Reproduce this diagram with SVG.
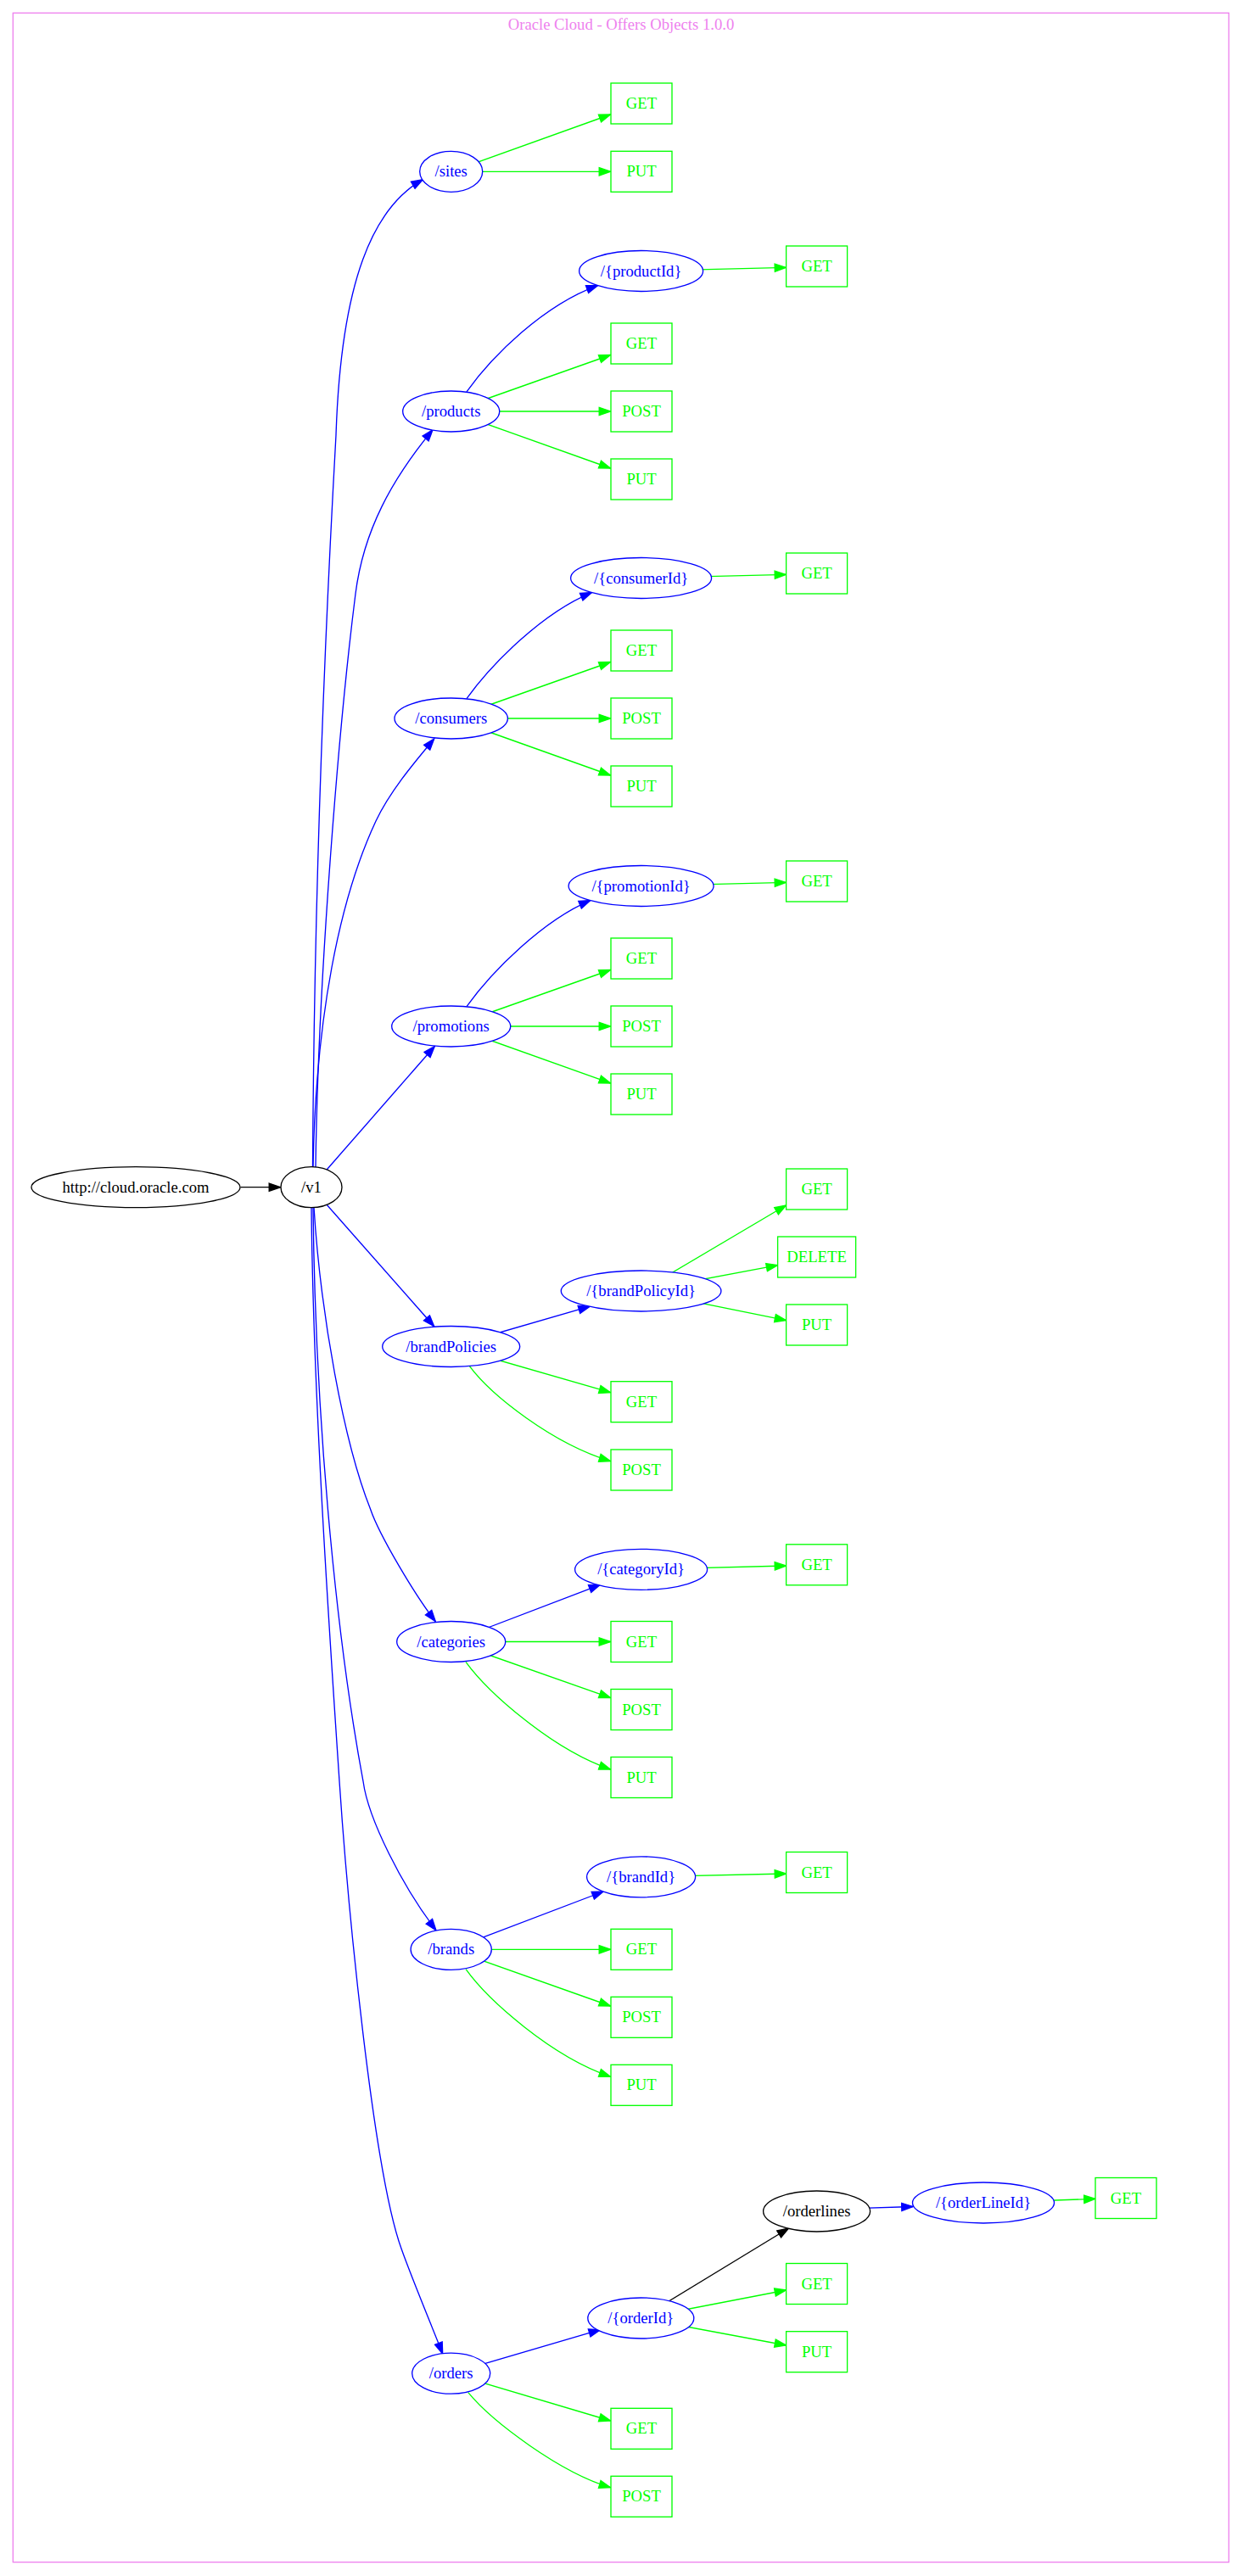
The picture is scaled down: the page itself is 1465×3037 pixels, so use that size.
<svg xmlns="http://www.w3.org/2000/svg" width="1465" height="3037" viewBox="0 0 1465 3037">
<style>
text{font-family:"Liberation Serif","Times New Roman",serif;font-size:18.67px;text-anchor:middle}
.n ellipse{fill:#fff;stroke-width:1.33}
.bl ellipse{stroke:#0000ff}.bl text{fill:#0000ff}
.bk ellipse{stroke:#000}.bk text{fill:#000}
.g rect{fill:#fff;stroke:#00ff00;stroke-width:1.33}.g text{fill:#00ff00}
.c path{fill:none;stroke-width:1.33}
.cb{stroke:#0000ff;marker-end:url(#ab)}
.cg{stroke:#00ff00;marker-end:url(#ag)}
.ck{stroke:#000;marker-end:url(#ak)}
</style>
<defs>
<marker id="ab" markerUnits="userSpaceOnUse" markerWidth="16" markerHeight="12" viewBox="-1 -1 16 12" refX="13.3" refY="5" orient="auto"><path d="M0,0.35 L13.3,5 L0,9.65 z" fill="#0000ff" stroke="#0000ff" stroke-width="1.33"/></marker>
<marker id="ag" markerUnits="userSpaceOnUse" markerWidth="16" markerHeight="12" viewBox="-1 -1 16 12" refX="13.3" refY="5" orient="auto"><path d="M0,0.35 L13.3,5 L0,9.65 z" fill="#00ff00" stroke="#00ff00" stroke-width="1.33"/></marker>
<marker id="ak" markerUnits="userSpaceOnUse" markerWidth="16" markerHeight="12" viewBox="-1 -1 16 12" refX="13.3" refY="5" orient="auto"><path d="M0,0.35 L13.3,5 L0,9.65 z" fill="#000" stroke="#000" stroke-width="1.33"/></marker>
</defs>
<rect x="0" y="0" width="1465" height="3037" fill="#fff"/>
<g id="frame">
<rect x="15.3" y="15.3" width="1433" height="3005.4" fill="none" stroke="#ee82ee" stroke-width="1.33"/>
<text x="732" y="34.5" fill="#ee82ee">Oracle Cloud - Offers Objects 1.0.0</text>
</g>
<g id="connectors" class="c">
<path class="ck" d="M283.5,1399.7 L330.5,1399.7"/>
<path class="cb" d="M368.5,1375.5 C370,1100 380,800 396,513 C402,330 440,245 498.3,211.7"/>
<path class="cb" d="M372,1376 C375,1150 400,850 419,700 C428.5,625 462,565 510,506.7"/>
<path class="cb" d="M369,1376 C372,1200 400,1060 443,968 C460,932 490,897 511.7,871"/>
<path class="cb" d="M367,1399.7 L512.3,1233.5"/>
<path class="cb" d="M367,1399.7 L511.7,1563.8"/>
<path class="cb" d="M370,1423.5 C378,1550 405,1700 436.7,1779.5 C447,1810 490,1882 513.3,1911.6"/>
<path class="cb" d="M369,1423.5 C372,1700 400,1950 428,2100 C434,2145 475,2225 514,2275.8"/>
<path class="cb" d="M367,1423.7 C369,1650 390,1950 400,2100 C410,2250 440,2560 473,2651 C485,2685 510,2745 521.7,2775"/>
<path class="cg" d="M531.7,202.3 L719.5,135"/>
<path class="cg" d="M531.7,202.3 L719.5,202.3"/>
<path class="cb" d="M550,461.8 C580,420 640,360 704.5,336.6"/>
<path class="cg" d="M755.6,319.5 L926.5,315.4"/>
<path class="cg" d="M531.7,485 L719.5,418.5"/>
<path class="cg" d="M531.7,485 L719.5,485"/>
<path class="cg" d="M531.7,485 L719.5,552"/>
<path class="cb" d="M550,823.6 C580,782 640,722 697.5,698.6"/>
<path class="cg" d="M755.6,681.5 L926.5,677.4"/>
<path class="cg" d="M531.7,847 L719.5,780.5"/>
<path class="cg" d="M531.7,847 L719.5,847"/>
<path class="cg" d="M531.7,847 L719.5,914"/>
<path class="cb" d="M550,1186.6 C580,1145 640,1085 695.8,1061.6"/>
<path class="cg" d="M755.6,1044.5 L926.5,1040.4"/>
<path class="cg" d="M531.7,1210 L719.5,1143.5"/>
<path class="cg" d="M531.7,1210 L719.5,1210"/>
<path class="cg" d="M531.7,1210 L719.5,1277"/>
<path class="cb" d="M531.7,1587.5 L695.2,1540.2"/>
<path class="cg" d="M755.6,1522 L926.5,1421"/>
<path class="cg" d="M755.6,1522 L916.6,1491.7"/>
<path class="cg" d="M755.6,1522 L926.5,1556.7"/>
<path class="cg" d="M531.7,1587.5 L719.5,1641.7"/>
<path class="cg" d="M553.4,1610.7 C579,1645 651,1702 719.5,1722.7"/>
<path class="cb" d="M531.7,1935.5 L707.5,1868.3"/>
<path class="cg" d="M755.6,1850.3 L926.5,1846"/>
<path class="cg" d="M531.7,1935.5 L719.5,1935.5"/>
<path class="cg" d="M531.7,1935.5 L719.5,2001.7"/>
<path class="cg" d="M549,1959.3 C575,1995 650,2062 719.5,2086"/>
<path class="cb" d="M531.7,2298.3 L711.2,2230"/>
<path class="cg" d="M755.6,2212.8 L926.5,2209"/>
<path class="cg" d="M531.7,2298.3 L719.5,2298.3"/>
<path class="cg" d="M531.7,2298.3 L719.5,2365"/>
<path class="cg" d="M549.1,2321.7 C575,2357.8 650,2424.8 719.5,2448.3"/>
<path class="cb" d="M531.7,2798.2 L707.4,2746.7"/>
<path class="ck" d="M755.3,2733 L929.5,2627"/>
<path class="cb" d="M962.6,2605 L1076,2601.5"/>
<path class="cg" d="M1159,2597 L1291,2592.3"/>
<path class="cg" d="M755.3,2733 L926.5,2700"/>
<path class="cg" d="M755.3,2733 L926.5,2765"/>
<path class="cg" d="M531.7,2798.2 L719.5,2854"/>
<path class="cg" d="M551.8,2820.7 C580,2855 660,2915 719.5,2932.7"/>
</g>
<g id="n_root" class="n bk"><ellipse cx="160" cy="1399.7" rx="123" ry="24"/><text x="160" y="1405.7">http://cloud.oracle.com</text></g>
<g id="n_v1" class="n bk"><ellipse cx="367" cy="1399.7" rx="36" ry="24"/><text x="367" y="1405.7">/v1</text></g>
<g id="n_sites" class="n bl"><ellipse cx="531.7" cy="202.3" rx="37" ry="24"/><text x="531.7" y="208.3">/sites</text></g>
<g id="n_sites_get" class="g"><rect x="720" y="98" width="72" height="48"/><text x="756" y="128">GET</text></g>
<g id="n_sites_put" class="g"><rect x="720" y="178.3" width="72" height="48"/><text x="756" y="208.3">PUT</text></g>
<g id="n_products" class="n bl"><ellipse cx="531.7" cy="485" rx="57" ry="24"/><text x="531.7" y="491">/products</text></g>
<g id="n_productId" class="n bl"><ellipse cx="755.6" cy="319.5" rx="73" ry="24"/><text x="755.6" y="325.5">/{productId}</text></g>
<g id="n_productId_get" class="g"><rect x="926.6" y="290" width="72" height="48"/><text x="962.6" y="320">GET</text></g>
<g id="n_products_get" class="g"><rect x="720" y="381" width="72" height="48"/><text x="756" y="411">GET</text></g>
<g id="n_products_post" class="g"><rect x="720" y="461" width="72" height="48"/><text x="756" y="491">POST</text></g>
<g id="n_products_put" class="g"><rect x="720" y="541" width="72" height="48"/><text x="756" y="571">PUT</text></g>
<g id="n_consumers" class="n bl"><ellipse cx="531.7" cy="847" rx="66.7" ry="24"/><text x="531.7" y="853">/consumers</text></g>
<g id="n_consumerId" class="n bl"><ellipse cx="755.6" cy="681.5" rx="83" ry="24"/><text x="755.6" y="687.5">/{consumerId}</text></g>
<g id="n_consumerId_get" class="g"><rect x="926.6" y="652" width="72" height="48"/><text x="962.6" y="682">GET</text></g>
<g id="n_consumers_get" class="g"><rect x="720" y="743" width="72" height="48"/><text x="756" y="773">GET</text></g>
<g id="n_consumers_post" class="g"><rect x="720" y="823" width="72" height="48"/><text x="756" y="853">POST</text></g>
<g id="n_consumers_put" class="g"><rect x="720" y="903" width="72" height="48"/><text x="756" y="933">PUT</text></g>
<g id="n_promotions" class="n bl"><ellipse cx="531.7" cy="1210" rx="70" ry="24"/><text x="531.7" y="1216">/promotions</text></g>
<g id="n_promotionId" class="n bl"><ellipse cx="755.6" cy="1044.5" rx="85.5" ry="24"/><text x="755.6" y="1050.5">/{promotionId}</text></g>
<g id="n_promotionId_get" class="g"><rect x="926.6" y="1015" width="72" height="48"/><text x="962.6" y="1045">GET</text></g>
<g id="n_promotions_get" class="g"><rect x="720" y="1106" width="72" height="48"/><text x="756" y="1136">GET</text></g>
<g id="n_promotions_post" class="g"><rect x="720" y="1186" width="72" height="48"/><text x="756" y="1216">POST</text></g>
<g id="n_promotions_put" class="g"><rect x="720" y="1266" width="72" height="48"/><text x="756" y="1296">PUT</text></g>
<g id="n_brandPolicies" class="n bl"><ellipse cx="531.7" cy="1587.5" rx="81" ry="24"/><text x="531.7" y="1593.5">/brandPolicies</text></g>
<g id="n_brandPolicyId" class="n bl"><ellipse cx="755.6" cy="1522" rx="94.3" ry="24"/><text x="755.6" y="1528">/{brandPolicyId}</text></g>
<g id="n_brandPolicyId_get" class="g"><rect x="926.6" y="1378" width="72" height="48"/><text x="962.6" y="1408">GET</text></g>
<g id="n_brandPolicyId_delete" class="g"><rect x="916.6" y="1458" width="92" height="48"/><text x="962.6" y="1488">DELETE</text></g>
<g id="n_brandPolicyId_put" class="g"><rect x="926.6" y="1538" width="72" height="48"/><text x="962.6" y="1568">PUT</text></g>
<g id="n_brandPolicies_get" class="g"><rect x="720" y="1628.7" width="72" height="48"/><text x="756" y="1658.7">GET</text></g>
<g id="n_brandPolicies_post" class="g"><rect x="720" y="1709" width="72" height="48"/><text x="756" y="1739">POST</text></g>
<g id="n_categories" class="n bl"><ellipse cx="531.7" cy="1935.5" rx="64" ry="24"/><text x="531.7" y="1941.5">/categories</text></g>
<g id="n_categoryId" class="n bl"><ellipse cx="755.6" cy="1850.3" rx="78" ry="24"/><text x="755.6" y="1856.3">/{categoryId}</text></g>
<g id="n_categoryId_get" class="g"><rect x="926.6" y="1820.8" width="72" height="48"/><text x="962.6" y="1850.8">GET</text></g>
<g id="n_categories_get" class="g"><rect x="720" y="1911.5" width="72" height="48"/><text x="756" y="1941.5">GET</text></g>
<g id="n_categories_post" class="g"><rect x="720" y="1991.5" width="72" height="48"/><text x="756" y="2021.5">POST</text></g>
<g id="n_categories_put" class="g"><rect x="720" y="2071.5" width="72" height="48"/><text x="756" y="2101.5">PUT</text></g>
<g id="n_brands" class="n bl"><ellipse cx="531.7" cy="2298.3" rx="47.6" ry="24"/><text x="531.7" y="2304.3">/brands</text></g>
<g id="n_brandId" class="n bl"><ellipse cx="755.6" cy="2212.8" rx="64" ry="24"/><text x="755.6" y="2218.8">/{brandId}</text></g>
<g id="n_brandId_get" class="g"><rect x="926.6" y="2183.5" width="72" height="48"/><text x="962.6" y="2213.5">GET</text></g>
<g id="n_brands_get" class="g"><rect x="720" y="2274.3" width="72" height="48"/><text x="756" y="2304.3">GET</text></g>
<g id="n_brands_post" class="g"><rect x="720" y="2354.3" width="72" height="48"/><text x="756" y="2384.3">POST</text></g>
<g id="n_brands_put" class="g"><rect x="720" y="2434.3" width="72" height="48"/><text x="756" y="2464.3">PUT</text></g>
<g id="n_orders" class="n bl"><ellipse cx="531.7" cy="2798.2" rx="46" ry="24"/><text x="531.7" y="2804.2">/orders</text></g>
<g id="n_orderId" class="n bl"><ellipse cx="755.3" cy="2733" rx="62.5" ry="24"/><text x="755.3" y="2739">/{orderId}</text></g>
<g id="n_orderId_get" class="g"><rect x="926.6" y="2668.5" width="72" height="48"/><text x="962.6" y="2698.5">GET</text></g>
<g id="n_orderId_put" class="g"><rect x="926.6" y="2748.7" width="72" height="48"/><text x="962.6" y="2778.7">PUT</text></g>
<g id="n_orderlines" class="n bk"><ellipse cx="962.6" cy="2607" rx="63" ry="24"/><text x="962.6" y="2613">/orderlines</text></g>
<g id="n_orderLineId" class="n bl"><ellipse cx="1159" cy="2597" rx="83.5" ry="24"/><text x="1159" y="2603">/{orderLineId}</text></g>
<g id="n_orderLineId_get" class="g"><rect x="1291" y="2567.5" width="72" height="48"/><text x="1327" y="2597.5">GET</text></g>
<g id="n_orders_get" class="g"><rect x="720" y="2839.3" width="72" height="48"/><text x="756" y="2869.3">GET</text></g>
<g id="n_orders_post" class="g"><rect x="720" y="2919.3" width="72" height="48"/><text x="756" y="2949.3">POST</text></g>
</svg>
